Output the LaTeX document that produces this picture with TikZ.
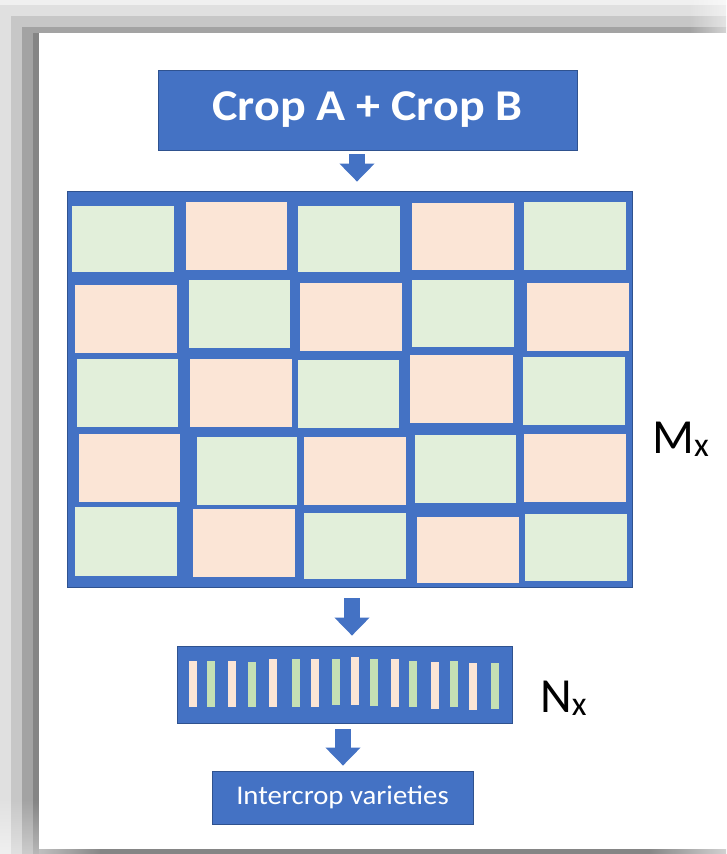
\documentclass[tikz,border=0pt]{standalone}
\usepackage{graphicx}
\usepackage{fontspec}
\setmainfont{Carlito}
\usetikzlibrary{arrows.meta}
\definecolor{boxblue}{HTML}{4472C4}
\definecolor{edgeblue}{HTML}{2F528F}
\definecolor{cellG}{HTML}{E2EFDA}
\definecolor{cellP}{HTML}{FBE5D6}
\definecolor{barG}{HTML}{C5E0B4}
\definecolor{barP}{HTML}{FBE5D6}
\newcommand{\widetext}[2]{\scalebox{#1}[1]{#2}}
\begin{document}
\begin{tikzpicture}[x=1pt,y=-1pt,
  bluebox/.style={draw=edgeblue, line width=0.8pt, fill=boxblue, inner sep=0pt},
  flowarrow/.style={boxblue, line width=16pt, -{Triangle[width=34pt,length=18pt]}},
  sidelabel/.style={inner sep=0pt, font=\fontsize{49}{54}\selectfont}]
\useasboundingbox (0,0) rectangle (726,854);
% soft frame shadow along the top and left
\fill[black!6]  (0,0)   rectangle (726,854);
\fill[black!12] (0,5)   rectangle (726,854);
\fill[black!22] (11,16) rectangle (726,854);
\fill[black!36] (22,27) rectangle (726,854);
\fill[black!48] (33,33) rectangle (726,854);
\shade[left color=black!6,  right color=black!3]  (690,0)  rectangle (726,5);
\shade[left color=black!12, right color=black!6]  (690,5)  rectangle (726,16);
\shade[left color=black!22, right color=black!11] (690,16) rectangle (726,27);
\shade[left color=black!36, right color=black!17] (690,27) rectangle (726,33);
\shade[top color=black!12, bottom color=black!6]  (0,800)  rectangle (11,854);
\shade[top color=black!22, bottom color=black!12] (11,800) rectangle (22,854);
\shade[top color=black!36, bottom color=black!20] (22,800) rectangle (33,854);
\shade[top color=black!48, bottom color=black!28] (33,800) rectangle (39,854);
\shade[left color=black!25, right color=black!47] (39,849) rectangle (100,854);
\shade[left color=black!47, right color=black!18] (650,849) rectangle (726,854);
\fill[white] (39,33) rectangle (726,849);

% boxes
\node[bluebox, minimum width=419pt, minimum height=80pt, text=white,
      font=\fontsize{44}{48}\selectfont\bfseries] (top) at (367.5,110)
      {\widetext{1.09}{Crop A + Crop B}};
\node[bluebox, minimum width=565pt, minimum height=396pt] (grid) at (349.5,389) {};
\node[bluebox, minimum width=335pt, minimum height=77pt] (strip) at (344.5,684.5) {};
\node[bluebox, minimum width=261pt, minimum height=53pt, text=white,
      font=\fontsize{27}{30}\selectfont] (low) at (342.5,797.5)
      {\widetext{1.065}{Intercrop varieties}};

% field plots
\foreach \xa/\ya/\xb/\yb/\c in {
  72/206/174/272/cellG, 186/202/287/270/cellP, 298/206/400/272/cellG, 412/203/514/270/cellP, 524/202/626/270/cellG,
  75/285/177/353/cellP, 189/280/290/348/cellG, 300/283/402/351/cellP, 412/280/514/347/cellG, 527/283/629/351/cellP,
  77/359/178/427/cellG, 190/359/292/427/cellP, 298/360/399/428/cellG, 410/355/513/423/cellP, 523/357/625/425/cellG,
  79/434/180/502/cellP, 197/437/297/505/cellG, 304/437/406/505/cellP, 415/435/516/503/cellG, 524/434/626/502/cellP,
  75/507/177/576/cellG, 193/509/295/577/cellP, 304/513/406/579/cellG, 417/517/519/583/cellP, 525/514/627/581/cellG}
  \fill[\c] (\xa,\ya) rectangle (\xb,\yb);

% selected rows
\foreach \xc/\ya/\yb/\c in {
  193.3/660.7/707.3/barP, 211/660.7/707.3/barG, 231.7/660.7/707.3/barP, 251.7/661.7/707.3/barG,
  272.7/659.3/706.7/barP, 295.7/659.3/706.7/barG, 315.3/659.3/706.7/barP, 335.7/659.3/705/barG,
  355/657.3/705/barP, 374.3/659.3/706/barG, 395/659.3/706.7/barP, 413.3/660.7/706.7/barG,
  435/661.7/709.3/barP, 454/660.7/707.3/barG, 473.3/662.7/710/barP, 495/662.7/709.3/barG}
  \fill[\c] (\xc-4,\ya) rectangle (\xc+4,\yb);

% flow arrows
\draw[flowarrow] ([xshift=-10.5pt,yshift=-4pt]top.south) -- ([xshift=7.5pt,yshift=9pt]grid.north);
\draw[flowarrow] ([xshift=2.5pt,yshift=-11pt]grid.south) -- ([xshift=7.5pt,yshift=10pt]strip.north);
\draw[flowarrow] ([xshift=-1.5pt,yshift=-6pt]strip.south) -- ([xshift=0.5pt,yshift=5pt]low.north);

% labels
\node[sidelabel, anchor=base west] (mx) at (652,453)
  {M\raisebox{-3pt}{\fontsize{34}{38}\selectfont x}};
\node[sidelabel, anchor=base west] (nx) at (540,712)
  {N\raisebox{-3pt}{\fontsize{34}{38}\selectfont x}};
\end{tikzpicture}
\end{document}
